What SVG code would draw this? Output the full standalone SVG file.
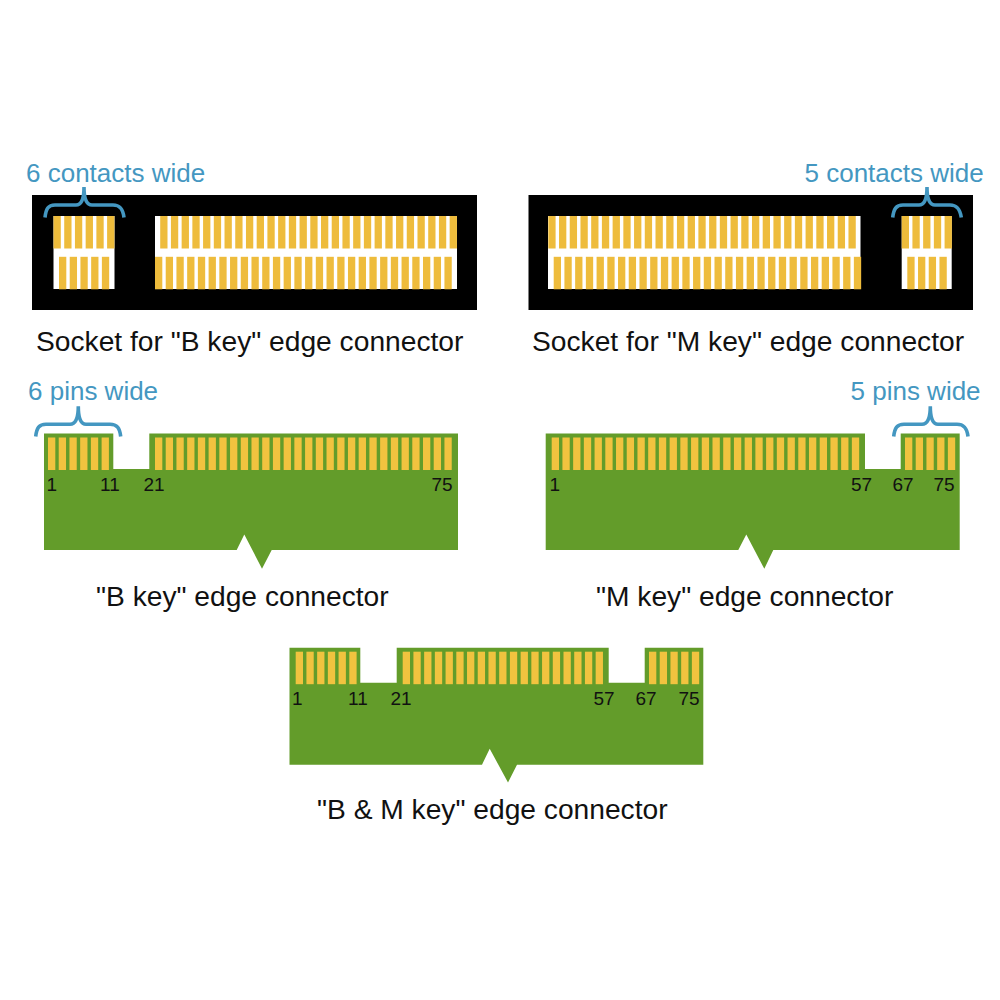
<svg xmlns="http://www.w3.org/2000/svg" xmlns:xlink="http://www.w3.org/1999/xlink" width="1000" height="1000" viewBox="0 0 1000 1000">
<style>
text{font-family:"Liberation Sans",Arial,sans-serif}
.cap{font-size:28.2px;fill:#111}
.blue{font-size:26px;fill:#4497c1}
.num{font-size:19px;fill:#111}
.board{fill:#639c2a}
.pins{fill:#f1c33f}
.cts{fill:#eebc3c}
.brace{fill:none;stroke:#4497c1;stroke-width:3.6}
</style>
<defs>
<rect id="r1" width="7.3" height="32.5"/>
<g id="r3"><use href="#r1"/><use href="#r1" x="10.72"/><use href="#r1" x="21.44"/></g>
<g id="r4"><use href="#r3"/><use href="#r1" x="32.16"/></g>
<g id="r5"><use href="#r4"/><use href="#r1" x="42.88"/></g>
<g id="r6"><use href="#r5"/><use href="#r1" x="53.6"/></g>
<g id="r10"><use href="#r5"/><use href="#r5" x="53.6"/></g>
<g id="r19"><use href="#r10"/><use href="#r5" x="107.2"/><use href="#r4" x="160.8"/></g>
<g id="r28"><use href="#r10"/><use href="#r10" x="107.2"/><use href="#r5" x="214.4"/><use href="#r3" x="268"/></g>
<g id="r29"><use href="#r28"/><use href="#r1" x="300.16"/></g>
</defs>
<rect width="1000" height="1000" fill="#fff"/>

<g id="socket-b">
<rect x="32" y="195" width="445" height="115" fill="#000"/>
<rect x="53.5" y="216" width="61" height="73" fill="#fff"/>
<rect x="155" y="216" width="302" height="73" fill="#fff"/>
<g class="cts">
<use href="#r6" x="53.5" y="216"/>
<use href="#r5" x="59" y="256.8"/>
<use href="#r28" x="160.2" y="216"/>
<use href="#r28" x="155" y="256.8"/>
</g>
<text class="cap" x="36" y="351">Socket for "B key" edge connector</text>
</g>

<g id="socket-m">
<rect x="528.5" y="195" width="444.5" height="115" fill="#000"/>
<rect x="548" y="216" width="312.5" height="73" fill="#fff"/>
<rect x="901.7" y="216" width="50" height="73" fill="#fff"/>
<g class="cts">
<use href="#r29" x="548.3" y="216"/>
<use href="#r29" x="553.7" y="256.8"/>
<use href="#r5" x="901.7" y="216"/>
<use href="#r4" x="907.3" y="256.8"/>
</g>
<text class="cap" x="532" y="351">Socket for "M key" edge connector</text>
</g>

<g id="edge-b">
<path class="board" d="M44 433.5H113.3V469H149.3V433.5H458V550H271.7L262 568.7L244.3 534.5L236.7 550H44Z"/>
<g class="pins">
<use href="#r6" x="48" y="437.5"/>
<use href="#r28" x="155" y="437.5"/>
</g>
<text class="num" x="46.5" y="491">1</text>
<text class="num" x="100" y="491">11</text>
<text class="num" x="143.5" y="491">21</text>
<text class="num" x="431.5" y="491">75</text>
<text class="cap" x="96" y="606">"B key" edge connector</text>
</g>

<g id="edge-m">
<path class="board" d="M545.7 433.5H865V469H900.7V433.5H959.7V550H773.3L764.3 568.7L746.3 534.5L738.3 550H545.7Z"/>
<g class="pins">
<use href="#r29" x="551.7" y="437.5"/>
<use href="#r5" x="905" y="437.5"/>
</g>
<text class="num" x="549.5" y="491">1</text>
<text class="num" x="851" y="491">57</text>
<text class="num" x="892.5" y="491">67</text>
<text class="num" x="933.5" y="491">75</text>
<text class="cap" x="596" y="606">"M key" edge connector</text>
</g>

<g id="edge-bm">
<path class="board" d="M289.5 647.7H360.3V682.7H396.7V647.7H608.7V682.7H644.7V647.7H703.3V764.7H517L508 782.5L489.7 748.7L482 764.7H289.5Z"/>
<g class="pins">
<use href="#r6" x="295.7" y="651.7"/>
<use href="#r19" x="402.7" y="651.7"/>
<use href="#r5" x="649" y="651.7"/>
</g>
<text class="num" x="292" y="705">1</text>
<text class="num" x="348" y="705">11</text>
<text class="num" x="390.5" y="705">21</text>
<text class="num" x="593.5" y="705">57</text>
<text class="num" x="635.5" y="705">67</text>
<text class="num" x="678.5" y="705">75</text>
<text class="cap" x="317" y="819">"B &amp; M key" edge connector</text>
</g>

<g id="connectors">
<path class="brace" d="M45 217.5C46 209 48 205 55 205H76C81 205 84 201 84 187C84 201 87 205 92 205H113C120 205 123 209 124 217.5"/>
<path class="brace" d="M892.7 217.5C893.7 209 896 205 903 205H919C924 205 927 201 927 187C927 201 930 205 935 205H950C957 205 960 209 961.3 217.5"/>
<path class="brace" d="M35.7 436.5C36.7 428 39 424.3 46 424.3H70C75 424.3 78.3 420 78.3 406.3C78.3 420 81 424.3 86 424.3H110C117 424.3 119.7 428 120.7 436.5"/>
<path class="brace" d="M893.7 436.5C894.7 428 897 424.3 904 424.3H922C927 424.3 930.3 420 930.3 406.3C930.3 420 933 424.3 938 424.3H957C964 424.3 967 428 968 436.5"/>
</g>

<g id="annotations">
<text class="blue" x="26" y="182">6 contacts wide</text>
<text class="blue" x="804.5" y="182">5 contacts wide</text>
<text class="blue" x="28" y="400">6 pins wide</text>
<text class="blue" x="850.5" y="400">5 pins wide</text>
</g>
</svg>
